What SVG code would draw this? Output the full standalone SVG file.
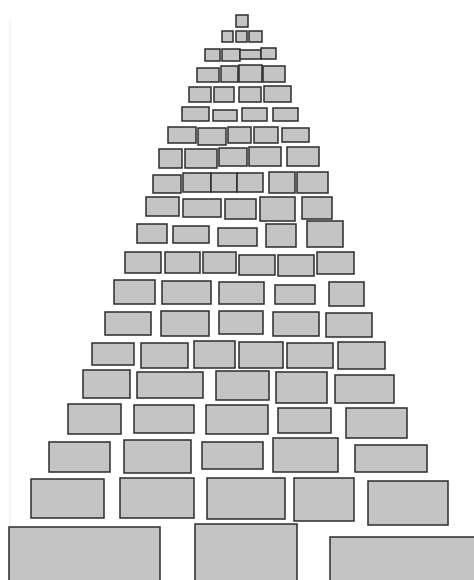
<svg xmlns="http://www.w3.org/2000/svg" width="474" height="580" viewBox="0 0 474 580">
<style>
.b rect{fill:#c4c4c4;stroke:#2b2b2b;stroke-width:1.5}
</style>
<rect x="0" y="0" width="474" height="580" fill="#ffffff"/>
<line x1="10" y1="20" x2="10" y2="580" stroke="#f2f2f2" stroke-width="1.5"/>
<g class="b">
<g id="r1"><rect x="236" y="15" width="12" height="12"/></g>
<g id="r2"><rect x="222" y="31" width="11" height="11"/><rect x="236" y="31" width="11" height="11"/><rect x="249" y="31" width="13" height="11"/></g>
<g id="r3"><rect x="205" y="49" width="15" height="12"/><rect x="222" y="49" width="18" height="12"/><rect x="240" y="50" width="21" height="9"/><rect x="261" y="48" width="15" height="11"/></g>
<g id="r4"><rect x="197" y="68" width="22" height="14"/><rect x="221" y="66" width="17" height="16"/><rect x="239" y="65" width="23" height="17"/><rect x="263" y="66" width="22" height="16"/></g>
<g id="r5"><rect x="189" y="87" width="22" height="15"/><rect x="214" y="87" width="20" height="15"/><rect x="239" y="87" width="22" height="15"/><rect x="264" y="86" width="27" height="16"/></g>
<g id="r6"><rect x="182" y="107" width="27" height="14"/><rect x="213" y="110" width="24" height="11"/><rect x="242" y="108" width="25" height="13"/><rect x="273" y="108" width="25" height="13"/></g>
<g id="r7"><rect x="168" y="127" width="28" height="16"/><rect x="198" y="128" width="28" height="17"/><rect x="228" y="127" width="23" height="16"/><rect x="254" y="127" width="24" height="16"/><rect x="282" y="128" width="27" height="14"/></g>
<g id="r8"><rect x="159" y="149" width="23" height="19"/><rect x="185" y="149" width="32" height="19"/><rect x="219" y="148" width="28" height="18"/><rect x="249" y="147" width="32" height="19"/><rect x="287" y="147" width="32" height="19"/></g>
<g id="r9"><rect x="153" y="175" width="28" height="18"/><rect x="183" y="173" width="28" height="19"/><rect x="211" y="173" width="26" height="19"/><rect x="237" y="173" width="26" height="19"/><rect x="269" y="172" width="26" height="21"/><rect x="297" y="172" width="31" height="21"/></g>
<g id="r10"><rect x="146" y="197" width="33" height="19"/><rect x="183" y="199" width="38" height="18"/><rect x="225" y="199" width="31" height="20"/><rect x="260" y="197" width="35" height="24"/><rect x="302" y="197" width="30" height="22"/></g>
<g id="r11"><rect x="137" y="224" width="30" height="19"/><rect x="173" y="226" width="36" height="17"/><rect x="218" y="228" width="39" height="18"/><rect x="266" y="224" width="30" height="23"/><rect x="307" y="221" width="36" height="26"/></g>
<g id="r12"><rect x="125" y="252" width="36" height="21"/><rect x="165" y="252" width="35" height="21"/><rect x="203" y="252" width="33" height="21"/><rect x="239" y="255" width="36" height="20"/><rect x="278" y="255" width="36" height="21"/><rect x="317" y="252" width="37" height="22"/></g>
<g id="r13"><rect x="114" y="280" width="41" height="24"/><rect x="162" y="281" width="49" height="23"/><rect x="219" y="282" width="45" height="22"/><rect x="275" y="285" width="40" height="19"/><rect x="329" y="282" width="35" height="24"/></g>
<g id="r14"><rect x="105" y="312" width="46" height="23"/><rect x="161" y="311" width="48" height="25"/><rect x="219" y="311" width="44" height="23"/><rect x="273" y="312" width="46" height="24"/><rect x="326" y="313" width="46" height="24"/></g>
<g id="r15"><rect x="92" y="343" width="42" height="22"/><rect x="141" y="343" width="47" height="25"/><rect x="194" y="341" width="41" height="27"/><rect x="239" y="342" width="44" height="26"/><rect x="287" y="343" width="46" height="25"/><rect x="338" y="342" width="47" height="27"/></g>
<g id="r16"><rect x="83" y="370" width="47" height="28"/><rect x="137" y="372" width="66" height="26"/><rect x="216" y="371" width="53" height="29"/><rect x="276" y="372" width="51" height="31"/><rect x="335" y="375" width="59" height="28"/></g>
<g id="r17"><rect x="68" y="404" width="53" height="30"/><rect x="134" y="405" width="60" height="28"/><rect x="206" y="405" width="62" height="29"/><rect x="278" y="408" width="53" height="25"/><rect x="346" y="408" width="61" height="30"/></g>
<g id="r18"><rect x="49" y="442" width="61" height="30"/><rect x="124" y="440" width="67" height="33"/><rect x="202" y="442" width="61" height="27"/><rect x="273" y="438" width="65" height="34"/><rect x="355" y="445" width="72" height="27"/></g>
<g id="r19"><rect x="31" y="479" width="73" height="39"/><rect x="120" y="478" width="74" height="40"/><rect x="207" y="478" width="78" height="41"/><rect x="294" y="478" width="60" height="43"/><rect x="368" y="481" width="80" height="44"/></g>
<g id="r20"><rect x="9" y="527" width="151" height="60"/><rect x="195" y="524" width="102" height="60"/><rect x="330" y="537" width="150" height="50"/></g>
</g>
<g id="connectors"/>
</svg>
